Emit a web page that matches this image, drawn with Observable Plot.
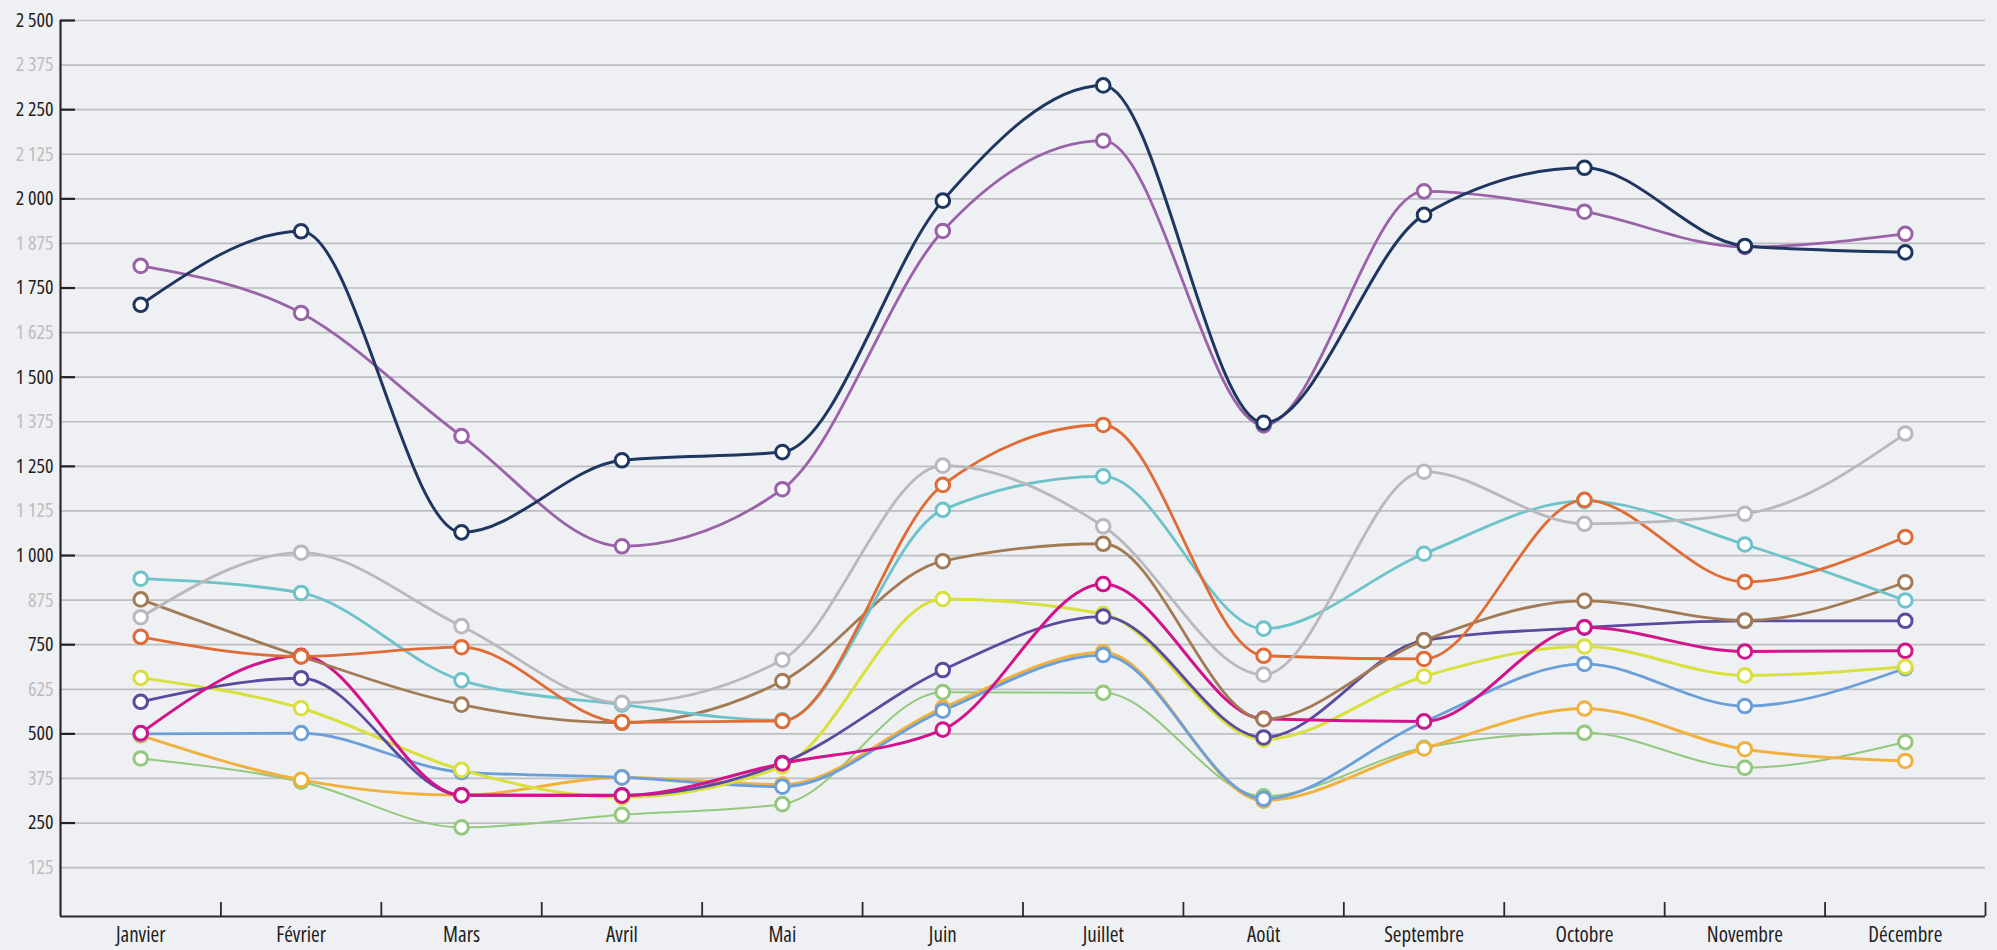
<!DOCTYPE html>
<html>
<head>
<meta charset="utf-8">
<script src="https://cdn.jsdelivr.net/npm/d3@7"></script>
<script src="https://cdn.jsdelivr.net/npm/@observablehq/plot@0.6"></script>
<style>
  html, body { margin: 0; padding: 0; background: #eff0f4; }
  #chart svg { display: block; }
</style>
</head>
<body>
<div id="chart"></div>
<script>
// ---- Data ----
const months = ["Janvier", "Février", "Mars", "Avril", "Mai", "Juin", "Juillet", "Août", "Septembre", "Octobre", "Novembre", "Décembre"];

const serieNavy    = [1703, 1909, 1065, 1267, 1290, 1995, 2318, 1372, 1955, 2087, 1868, 1850];
const seriePurple  = [1812, 1680, 1335, 1026, 1186, 1910, 2163, 1365, 2021, 1964, 1865, 1902];
const serieGray    = [827, 1008, 802, 587, 708, 1252, 1082, 666, 1235, 1089, 1117, 1342];
const serieOrange  = [772, 717, 743, 533, 536, 1198, 1366, 719, 710, 1156, 926, 1052];
const serieTeal    = [935, 895, 650, 582, 538, 1128, 1222, 795, 1005, 1153, 1031, 874];
const serieBrown   = [877, 717, 582, 531, 648, 984, 1033, 541, 762, 873, 818, 925];
const serieIndigo  = [590, 656, 328, 328, 418, 679, 829, 490, 762, 798, 817, 817];
const serieMagenta = [502, 719, 328, 327, 417, 512, 920, 542, 535, 799, 731, 733];
const serieYellow  = [657, 572, 399, 322, 409, 878, 836, 484, 661, 745, 664, 688];
const serieBlue    = [500, 502, 393, 378, 352, 565, 721, 318, 534, 696, 578, 684];
const serieAmber   = [496, 371, 328, 378, 358, 573, 729, 313, 459, 571, 457, 424];
const serieGreen   = [431, 366, 238, 273, 303, 617, 615, 325, 461, 503, 405, 477];

const majorTicks = [250, 500, 750, 1000, 1250, 1500, 1750, 2000, 2250, 2500];
const minorTicks = [125, 375, 625, 875, 1125, 1375, 1625, 1875, 2125, 2375];

// ---- Styles (drawing order: first = bottom) ----
const seriesData = [serieGreen, serieAmber, serieBlue, serieYellow, serieIndigo, serieMagenta, serieBrown, serieTeal, serieOrange, serieGray, seriePurple, serieNavy];
const seriesColors = ["#93c97c", "#f1b13f", "#6b9fd9", "#d9e03c", "#5b4b9f", "#d1148c", "#a27b55", "#6cc3c9", "#e06b34", "#b9b9bd", "#9a62a8", "#1f3760"];
const seriesWidths = [2.0, 3.0, 2.8, 3.0, 2.8, 3.0, 2.8, 2.8, 2.8, 2.8, 2.8, 3.0];

const yMin = -12;
const fmt = d => d3.format(",")(d).replace(/,/g, " ");

const tables = seriesData.map(vals => vals.map((v, i) => ({pos: i + 0.5, month: months[i], value: v})));
const labelPos = months.map((m, i) => i + 0.5);
const boundaries = months.map((m, i) => i + 1);

const marks = [
  Plot.gridY([...minorTicks, ...majorTicks], {stroke: "#bdbec2", strokeWidth: 1.7, strokeOpacity: 1}),
  Plot.ruleX([0], {stroke: "#2a2a2a", strokeWidth: 2.2}),
  Plot.ruleY([yMin], {stroke: "#2a2a2a", strokeWidth: 2.2}),
  Plot.axisY(majorTicks, {tickSize: 0, tickPadding: 7, tickFormat: fmt, fill: "#1e1e1e", fontSize: 20, label: null}),
  Plot.axisY(minorTicks, {tickSize: 0, tickPadding: 7, tickFormat: fmt, fill: "#bdbdbf", fontSize: 20, label: null}),
  Plot.axisY(majorTicks, {tickSize: -15, tickPadding: 0, tickFormat: () => "", stroke: "#222", strokeWidth: 2.2, label: null}),
  Plot.axisX(labelPos, {tickSize: 0, tickPadding: 11, tickFormat: d => months[Math.floor(d)], fill: "#1e1e1e", fontSize: 21, label: null}),
  Plot.axisX(boundaries, {tickSize: -14, tickPadding: 0, tickFormat: () => "", stroke: "#2a2a2a", strokeWidth: 1.8, label: null})
];

tables.forEach((t, k) => {
  marks.push(Plot.line(t, {x: "pos", y: "value", curve: "monotone-x", stroke: seriesColors[k], strokeWidth: seriesWidths[k]}));
});
tables.forEach((t, k) => {
  marks.push(Plot.dot(t, {x: "pos", y: "value", r: 6.8, fill: "white", stroke: seriesColors[k], strokeWidth: 3}));
});

const chart = Plot.plot({
  width: 1997,
  height: 950,
  marginLeft: 60,
  marginRight: 12,
  marginTop: 20,
  marginBottom: 34,
  style: "background:#eff0f4;font-family:'Open Sans',sans-serif;font-stretch:condensed;",
  x: {type: "linear", domain: [0, 12]},
  y: {type: "linear", domain: [yMin, 2500]},
  marks
});
document.getElementById("chart").appendChild(chart);
</script>
</body>
</html>
